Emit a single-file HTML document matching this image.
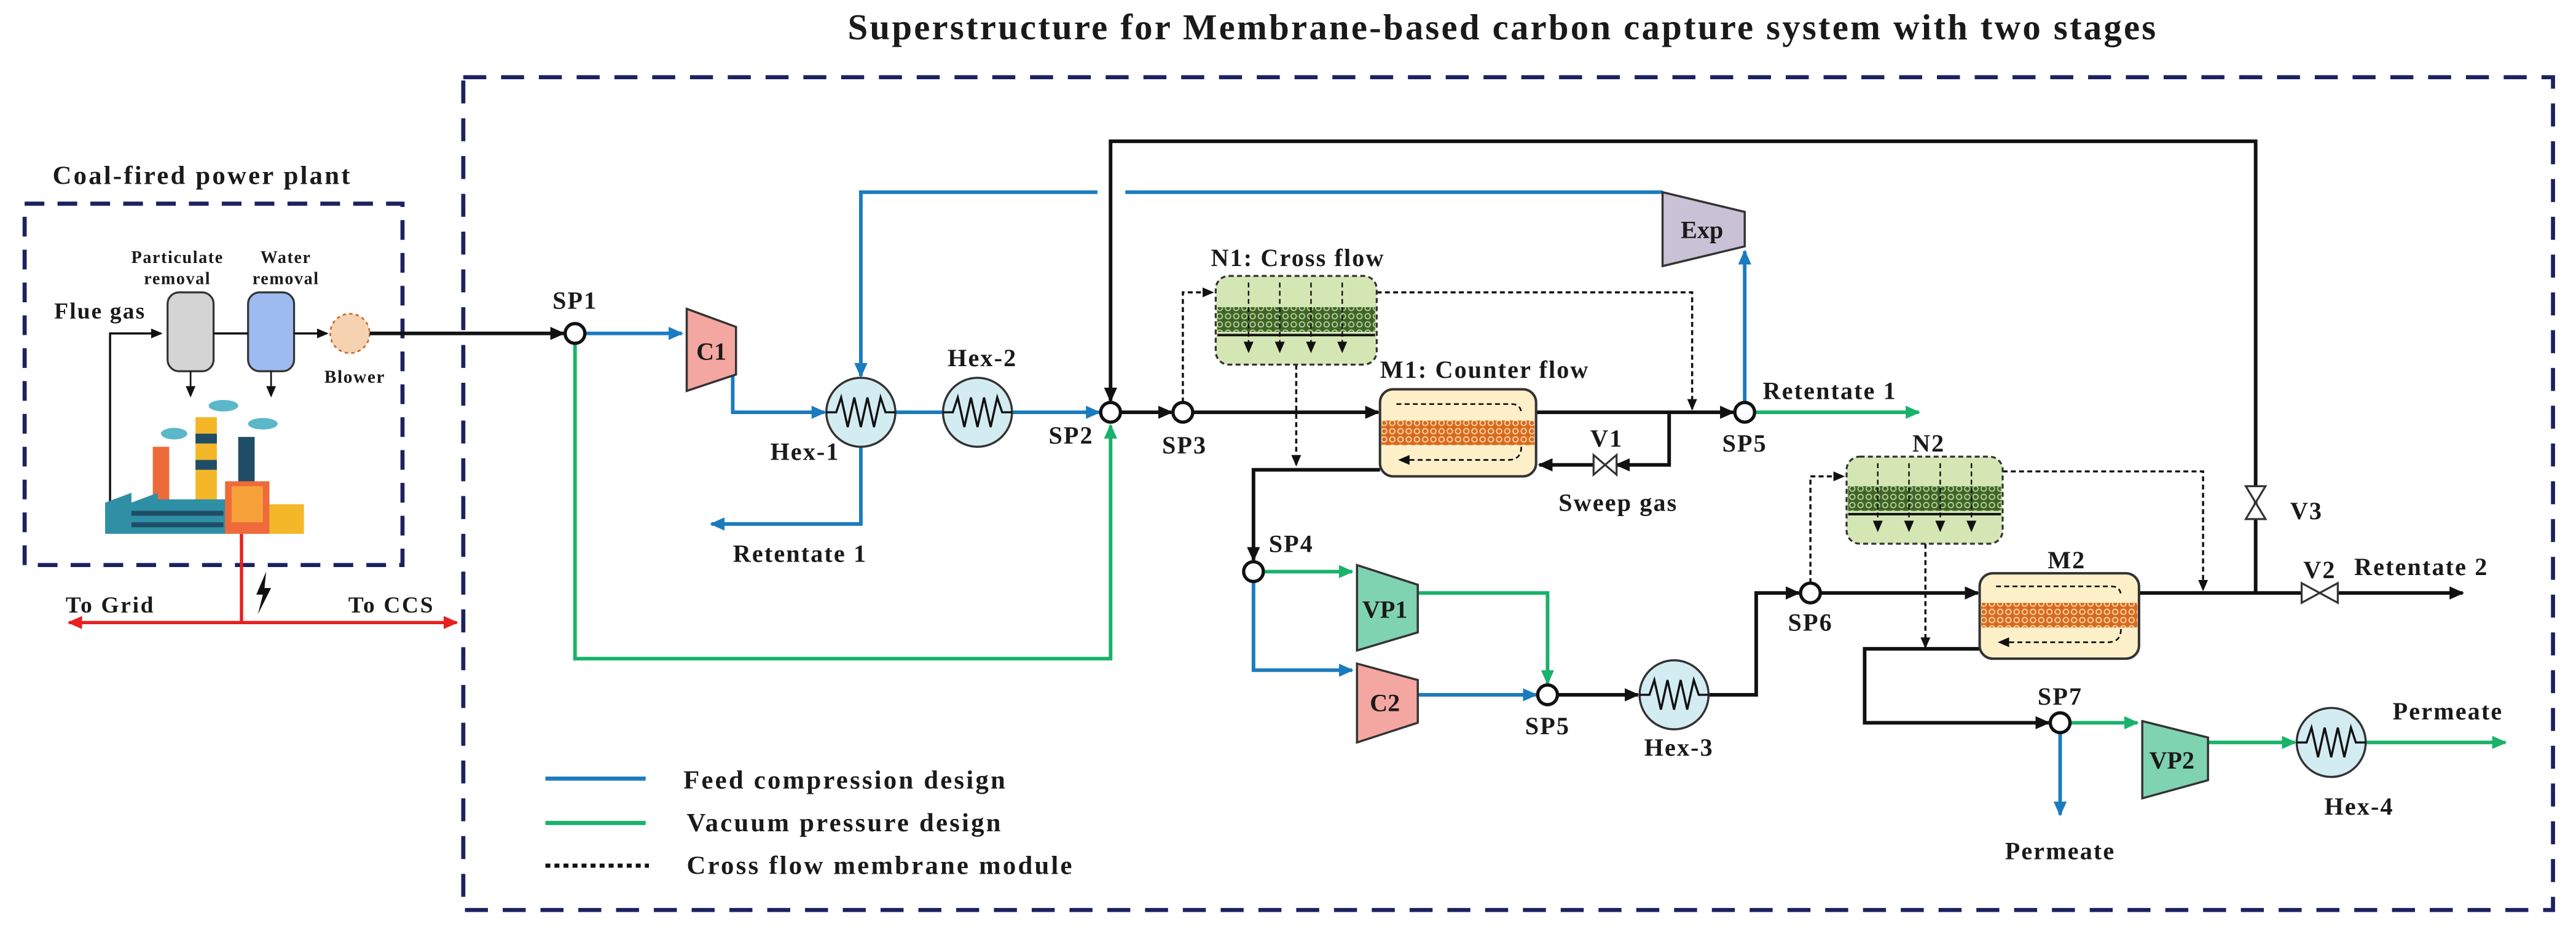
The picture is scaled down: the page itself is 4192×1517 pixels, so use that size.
<!DOCTYPE html>
<html><head><meta charset="utf-8"><style>
html,body{margin:0;padding:0;background:#fff}
svg{display:block}
text{font-family:"Liberation Serif",serif;font-weight:bold;fill:#1a1a1a}
</style></head><body>
<svg width="4192" height="1517" viewBox="0 0 1568 567.4" preserveAspectRatio="none" xmlns="http://www.w3.org/2000/svg">
<defs>
<marker id="ak" markerWidth="10" markerHeight="10" refX="8" refY="4" orient="auto" markerUnits="userSpaceOnUse"><path d="M0,0 L9,4 L0,8 z" fill="#111"/></marker>
<marker id="ab" markerWidth="10" markerHeight="10" refX="8" refY="4" orient="auto" markerUnits="userSpaceOnUse"><path d="M0,0 L9,4 L0,8 z" fill="#1b7bbf"/></marker>
<marker id="ag" markerWidth="10" markerHeight="10" refX="8" refY="4" orient="auto" markerUnits="userSpaceOnUse"><path d="M0,0 L9,4 L0,8 z" fill="#19b26b"/></marker>
<marker id="ar" markerWidth="10" markerHeight="10" refX="8" refY="4" orient="auto" markerUnits="userSpaceOnUse"><path d="M0,0 L9,4 L0,8 z" fill="#e8211f"/></marker>
<marker id="as" markerWidth="8" markerHeight="8" refX="6" refY="3" orient="auto" markerUnits="userSpaceOnUse"><path d="M0,0 L7,3 L0,6 z" fill="#111"/></marker>
<pattern id="po" width="5" height="5" patternUnits="userSpaceOnUse"><rect width="5" height="5" fill="#d9691f"/><circle cx="2.5" cy="2.5" r="1.6" fill="none" stroke="#f7d9a8" stroke-width="0.7"/></pattern>
<pattern id="pg" width="5" height="5" patternUnits="userSpaceOnUse"><rect width="5" height="5" fill="#3f6428"/><circle cx="2.5" cy="2.5" r="1.6" fill="none" stroke="#b9d39a" stroke-width="0.7"/></pattern>
</defs>

<text x="516" y="24" font-size="22" letter-spacing="1.2">Superstructure for Membrane-based carbon capture system with two stages</text>

<rect x="282" y="47" width="1272" height="507" fill="none" stroke="#1c2260" stroke-width="2.5" stroke-dasharray="14 9"/>
<rect x="15" y="124" width="230" height="220" fill="none" stroke="#1c2260" stroke-width="2.5" stroke-dasharray="12 8"/>
<text x="32" y="112" font-size="16" letter-spacing="1.2">Coal-fired power plant</text>

<!-- plant -->
<text x="108" y="160" font-size="10.5" letter-spacing="0.6" text-anchor="middle">Particulate</text>
<text x="108" y="173" font-size="10.5" letter-spacing="0.6" text-anchor="middle">removal</text>
<text x="174" y="160" font-size="10.5" letter-spacing="0.6" text-anchor="middle">Water</text>
<text x="174" y="173" font-size="10.5" letter-spacing="0.6" text-anchor="middle">removal</text>
<text x="33" y="194" font-size="14" letter-spacing="0.8">Flue gas</text>
<rect x="102" y="178" width="28" height="48" rx="7" fill="#d4d4d4" stroke="#333" stroke-width="1.2"/>
<rect x="151" y="178" width="28" height="48" rx="7" fill="#9dbbef" stroke="#333" stroke-width="1.2"/>
<circle cx="213" cy="203" r="12" fill="#f7d2b0" stroke="#c96a2a" stroke-dasharray="2 2"/>
<text x="216" y="233" font-size="11" letter-spacing="0.6" text-anchor="middle">Blower</text>
<polyline points="67,320 67,203 98,203" fill="none" stroke="#111" stroke-width="1.3" marker-end="url(#as)"/>
<line x1="130" y1="203" x2="151" y2="203" stroke="#111" stroke-width="1.3"/>
<line x1="179" y1="203" x2="199" y2="203" stroke="#111" stroke-width="1.3" marker-end="url(#as)"/>
<line x1="116" y1="226" x2="116" y2="241" stroke="#111" stroke-width="1" marker-end="url(#as)"/>
<line x1="165" y1="226" x2="165" y2="241" stroke="#111" stroke-width="1" marker-end="url(#as)"/>
<!-- factory -->
<ellipse cx="106" cy="264" rx="8" ry="3.5" fill="#5bb7c9"/>
<ellipse cx="136" cy="247" rx="9" ry="3.5" fill="#5bb7c9"/>
<ellipse cx="160" cy="258" rx="9" ry="3.5" fill="#5bb7c9"/>
<rect x="93" y="272" width="10" height="33" fill="#ef6a3a"/>
<rect x="119" y="254" width="13" height="52" fill="#f4b729"/>
<rect x="119" y="264" width="13" height="6" fill="#1f4d66"/><rect x="119" y="280" width="13" height="6" fill="#1f4d66"/>
<rect x="145" y="266" width="10" height="30" fill="#1f4d66"/>
<path d="M64,325 L64,306 L80,300 L80,306 L96,300 L96,304 L140,304 L140,325 z" fill="#2e8fa5"/>
<rect x="137" y="293" width="27" height="32" fill="#ef6a3a"/>
<rect x="141" y="296" width="19" height="22" fill="#f7a13a"/>
<rect x="164" y="307" width="21" height="18" fill="#f4b729"/>
<rect x="80" y="311" width="56" height="3" fill="#1f4d66"/><rect x="80" y="318" width="56" height="3" fill="#1f4d66"/>

<!-- red power -->
<line x1="147" y1="325" x2="147" y2="379" stroke="#e8211f" stroke-width="2"/>
<line x1="147" y1="379" x2="42" y2="379" stroke="#e8211f" stroke-width="2" marker-end="url(#ar)"/>
<line x1="147" y1="379" x2="278" y2="379" stroke="#e8211f" stroke-width="2" marker-end="url(#ar)"/>
<path d="M162,348 L156,362 L160,362 L157,374 L165,358 L161,358 z" fill="#111"/>
<text x="40" y="373" font-size="14" letter-spacing="1">To Grid</text>
<text x="212" y="373" font-size="14" letter-spacing="1">To CCS</text>

<!-- main lines -->
<g fill="none" stroke-width="2.2">
<line x1="225" y1="203" x2="343" y2="203" stroke="#111" marker-end="url(#ak)"/>
<line x1="356" y1="203" x2="415" y2="203" stroke="#1b7bbf" marker-end="url(#ab)"/>
<polyline points="446,228 446,251 502,251" stroke="#1b7bbf" marker-end="url(#ab)"/>
<polyline points="668,117 524,117 524,229" stroke="#1b7bbf" marker-end="url(#ab)"/>
<line x1="685" y1="117" x2="1012" y2="117" stroke="#1b7bbf"/>
<polyline points="524,272 524,319 433,319" stroke="#1b7bbf" marker-end="url(#ab)"/>
<line x1="545" y1="251" x2="574" y2="251" stroke="#1b7bbf"/>
<line x1="616" y1="251" x2="669" y2="251" stroke="#1b7bbf" marker-end="url(#ab)"/>
<polyline points="350,209 350,401 676,401 676,259" stroke="#19b26b" marker-end="url(#ag)"/>
<polyline points="1373,361 1373,86 676,86 676,244" stroke="#111" marker-end="url(#ak)"/>
<line x1="682" y1="251" x2="713" y2="251" stroke="#111" marker-end="url(#ak)"/>
<line x1="726" y1="251" x2="839" y2="251" stroke="#111" marker-end="url(#ak)"/>
<line x1="935" y1="251" x2="1055" y2="251" stroke="#111" marker-end="url(#ak)"/>
<polyline points="1016,251 1016,283 984,283" stroke="#111" marker-end="url(#ak)"/>
<line x1="970" y1="283" x2="937" y2="283" stroke="#111" marker-end="url(#ak)"/>
<polyline points="840,286 763,286 763,341" stroke="#111" marker-end="url(#ak)"/>
<line x1="1062" y1="245" x2="1062" y2="153" stroke="#1b7bbf" marker-end="url(#ab)"/>
<line x1="1068" y1="251" x2="1168" y2="251" stroke="#19b26b" marker-end="url(#ag)"/>
<line x1="769" y1="348" x2="823" y2="348" stroke="#19b26b" marker-end="url(#ag)"/>
<polyline points="863,361 942,361 942,416" stroke="#19b26b" marker-end="url(#ag)"/>
<polyline points="763,354 763,408 823,408" stroke="#1b7bbf" marker-end="url(#ab)"/>
<line x1="863" y1="423" x2="935" y2="423" stroke="#1b7bbf" marker-end="url(#ab)"/>
<line x1="948" y1="423" x2="997" y2="423" stroke="#111" marker-end="url(#ak)"/>
<polyline points="1040,423 1069,423 1069,361 1095,361" stroke="#111" marker-end="url(#ak)"/>
<line x1="1108" y1="361" x2="1204" y2="361" stroke="#111" marker-end="url(#ak)"/>
<line x1="1302" y1="361" x2="1401" y2="361" stroke="#111"/>
<line x1="1423" y1="361" x2="1499" y2="361" stroke="#111" marker-end="url(#ak)"/>
<polyline points="1205,395 1135,395 1135,440 1247,440" stroke="#111" marker-end="url(#ak)"/>
<line x1="1260" y1="440" x2="1301" y2="440" stroke="#19b26b" marker-end="url(#ag)"/>
<line x1="1344" y1="452" x2="1397" y2="452" stroke="#19b26b" marker-end="url(#ag)"/>
<line x1="1440" y1="452" x2="1525" y2="452" stroke="#19b26b" marker-end="url(#ag)"/>
<line x1="1254" y1="446" x2="1254" y2="496" stroke="#1b7bbf" marker-end="url(#ab)"/>
</g>
<!-- dotted -->
<g fill="none" stroke="#111" stroke-width="1.3" stroke-dasharray="3 2">
<polyline points="720,245 720,178 738,178" marker-end="url(#as)"/>
<polyline points="838,178 1030,178 1030,249" marker-end="url(#as)"/>
<line x1="789" y1="222" x2="789" y2="283" marker-end="url(#as)"/>
<polyline points="1102,355 1102,290 1122,290" marker-end="url(#as)"/>
<polyline points="1219,287 1341,287 1341,359" marker-end="url(#as)"/>
<line x1="1172" y1="331" x2="1172" y2="394" marker-end="url(#as)"/>
</g>

<!-- equipment -->
<polygon points="418,188 448,199 448,228 418,238" fill="#f4a6a0" stroke="#333" stroke-width="1.3"/>
<text x="433" y="219" font-size="15" text-anchor="middle">C1</text>
<polygon points="1012,117 1062,129 1062,150 1012,162" fill="#c9c2d6" stroke="#333" stroke-width="1.3"/>
<text x="1036" y="145" font-size="15" text-anchor="middle">Exp</text>
<polygon points="826,344 863,356 863,385 826,396" fill="#7fd3b0" stroke="#333" stroke-width="1.3"/>
<text x="843" y="376" font-size="15" text-anchor="middle">VP1</text>
<polygon points="826,404 863,414 863,440 826,452" fill="#f4a6a0" stroke="#333" stroke-width="1.3"/>
<text x="843" y="433" font-size="15" text-anchor="middle">C2</text>
<polygon points="1304,439 1344,449 1344,475 1304,486" fill="#7fd3b0" stroke="#333" stroke-width="1.3"/>
<text x="1322" y="468" font-size="15" text-anchor="middle">VP2</text>

<g fill="#d3ecf2" stroke="#333" stroke-width="1.3">
<circle cx="524" cy="251" r="21"/><circle cx="595" cy="251" r="21"/>
<circle cx="1019" cy="423" r="21"/><circle cx="1419" cy="452" r="21"/>
</g>
<g fill="none" stroke="#111" stroke-width="1.3">
<path d="M503,251 L509,251 L512,242 L516,260 L520,242 L524,260 L528,242 L532,260 L536,242 L539,251 L545,251"/>
<path d="M574,251 L580,251 L583,242 L587,260 L591,242 L595,260 L599,242 L603,260 L607,242 L610,251 L616,251"/>
<path d="M998,423 L1004,423 L1007,414 L1011,432 L1015,414 L1019,432 L1023,414 L1027,432 L1031,414 L1034,423 L1040,423"/>
<path d="M1398,452 L1404,452 L1407,443 L1411,461 L1415,443 L1419,461 L1423,443 L1427,461 L1431,443 L1434,452 L1440,452"/>
</g>

<!-- splitters -->
<g fill="#fff" stroke="#111" stroke-width="2">
<circle cx="350" cy="203" r="6"/><circle cx="676" cy="251" r="6"/><circle cx="720" cy="251" r="6"/>
<circle cx="1062" cy="251" r="6"/><circle cx="763" cy="348" r="6"/><circle cx="942" cy="423" r="6"/>
<circle cx="1102" cy="361" r="6"/><circle cx="1254" cy="440" r="6"/>
</g>

<!-- valves -->
<g fill="#fff" stroke="#333" stroke-width="1.2">
<polygon points="970,277 984,289 984,277 970,289"/>
<polygon points="1401,355 1423,367 1423,355 1401,367"/>
<polygon points="1367,296 1379,316 1367,316 1379,296"/>
</g>

<!-- M1 -->
<rect x="840" y="237" width="95" height="53" rx="8" fill="#fdf0c8" stroke="#333" stroke-width="1.5"/>
<rect x="841" y="256" width="93" height="15" fill="url(#po)"/>
<path d="M850,246 L920,246 Q926,246 926,252" fill="none" stroke="#111" stroke-width="1" stroke-dasharray="3 2"/>
<path d="M926,272 Q926,280 918,280 L852,280" fill="none" stroke="#111" stroke-width="1" stroke-dasharray="3 2" marker-end="url(#as)"/>
<!-- M2 -->
<rect x="1205" y="349" width="97" height="52" rx="8" fill="#fdf0c8" stroke="#333" stroke-width="1.5"/>
<rect x="1206" y="367" width="95" height="15" fill="url(#po)"/>
<path d="M1215,357 L1285,357 Q1291,357 1291,363" fill="none" stroke="#111" stroke-width="1" stroke-dasharray="3 2"/>
<path d="M1291,383 Q1291,391 1283,391 L1217,391" fill="none" stroke="#111" stroke-width="1" stroke-dasharray="3 2" marker-end="url(#as)"/>
<!-- N1 -->
<rect x="740" y="168" width="98" height="54" rx="8" fill="#d5e6b5" stroke="#333" stroke-width="1.2" stroke-dasharray="3 2"/>
<rect x="741" y="187" width="96" height="15" fill="url(#pg)"/>
<line x1="741" y1="204" x2="837" y2="204" stroke="#111" stroke-width="1.5"/>
<g stroke="#111" stroke-width="0.9" stroke-dasharray="3 2"><line x1="760" y1="172" x2="760" y2="214" marker-end="url(#as)"/><line x1="779" y1="172" x2="779" y2="214" marker-end="url(#as)"/><line x1="798" y1="172" x2="798" y2="214" marker-end="url(#as)"/><line x1="817" y1="172" x2="817" y2="214" marker-end="url(#as)"/></g>
<!-- N2 -->
<rect x="1124" y="278" width="95" height="53" rx="8" fill="#d5e6b5" stroke="#333" stroke-width="1.2" stroke-dasharray="3 2"/>
<rect x="1125" y="296" width="93" height="15" fill="url(#pg)"/>
<line x1="1125" y1="313" x2="1218" y2="313" stroke="#111" stroke-width="1.5"/>
<g stroke="#111" stroke-width="0.9" stroke-dasharray="3 2"><line x1="1143" y1="282" x2="1143" y2="323" marker-end="url(#as)"/><line x1="1162" y1="282" x2="1162" y2="323" marker-end="url(#as)"/><line x1="1181" y1="282" x2="1181" y2="323" marker-end="url(#as)"/><line x1="1200" y1="282" x2="1200" y2="323" marker-end="url(#as)"/></g>

<!-- labels -->
<g font-size="15" letter-spacing="0.8">
<text x="350" y="188" text-anchor="middle">SP1</text>
<text x="598" y="223" text-anchor="middle">Hex-2</text>
<text x="490" y="280" text-anchor="middle">Hex-1</text>
<text x="652" y="270" text-anchor="middle">SP2</text>
<text x="721" y="276" text-anchor="middle">SP3</text>
<text x="487" y="342" text-anchor="middle">Retentate 1</text>
<text x="790" y="162" text-anchor="middle">N1: Cross flow</text>
<text x="840" y="230">M1: Counter flow</text>
<text x="978" y="272" text-anchor="middle">V1</text>
<text x="985" y="311" text-anchor="middle">Sweep gas</text>
<text x="1062" y="275" text-anchor="middle">SP5</text>
<text x="1073" y="243">Retentate 1</text>
<text x="786" y="336" text-anchor="middle">SP4</text>
<text x="942" y="447" text-anchor="middle">SP5</text>
<text x="1022" y="460" text-anchor="middle">Hex-3</text>
<text x="1102" y="384" text-anchor="middle">SP6</text>
<text x="1174" y="275" text-anchor="middle">N2</text>
<text x="1258" y="346" text-anchor="middle">M2</text>
<text x="1394" y="316">V3</text>
<text x="1412" y="352" text-anchor="middle">V2</text>
<text x="1433" y="350">Retentate 2</text>
<text x="1254" y="429" text-anchor="middle">SP7</text>
<text x="1490" y="438" text-anchor="middle">Permeate</text>
<text x="1436" y="496" text-anchor="middle">Hex-4</text>
<text x="1254" y="523" text-anchor="middle">Permeate</text>
</g>

<!-- legend -->
<line x1="332" y1="474" x2="393" y2="474" stroke="#1b7bbf" stroke-width="2.5"/>
<line x1="332" y1="501" x2="393" y2="501" stroke="#19b26b" stroke-width="2.5"/>
<line x1="332" y1="527" x2="395" y2="527" stroke="#111" stroke-width="2.5" stroke-dasharray="3 2.5"/>
<text x="416" y="480" font-size="16" letter-spacing="1.2">Feed compression design</text>
<text x="418" y="506" font-size="16" letter-spacing="1.2">Vacuum pressure design</text>
<text x="418" y="532" font-size="16" letter-spacing="1.2">Cross flow membrane module</text>
</svg>
</body></html>
